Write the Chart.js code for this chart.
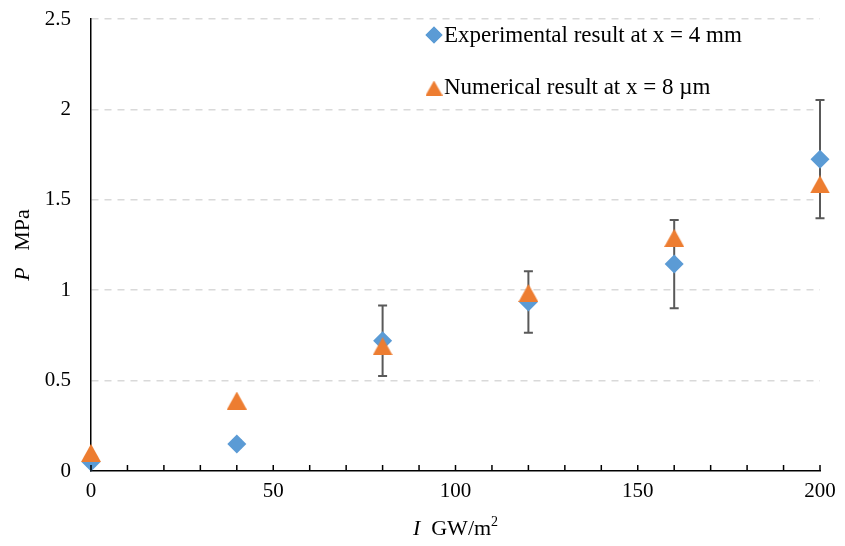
<!DOCTYPE html>
<html>
<head>
<meta charset="utf-8">
<script src="https://cdn.jsdelivr.net/npm/chart.js@4"></script>
<style>
  html, body { margin: 0; padding: 0; background: #fff; }
  #wrap { width: 845px; height: 546px; }
</style>
</head>
<body>
<div id="wrap"><canvas id="graphchart" width="845" height="546"></canvas></div>
<script>
// intensity I (GW/m2)
var intensity = [0, 40, 80, 120, 160, 200]
// pressure P (MPa)
var experimental = [0.05, 0.15, 0.72, 0.935, 1.145, 1.725]
var expError = [0.02, 0.02, 0.195, 0.17, 0.244, 0.327]
var numerical = [0.1, 0.39, 0.69, 0.985, 1.29, 1.585]
var seriesNames = ['Experimental result at x = 4 mm', 'Numerical result at x = 8 \u00b5m']
var xLabels = [0, 50, 100, 150, 200]

var serif = "'Liberation Serif', 'Times New Roman', serif"

// triangle marker, centred on its box like the spreadsheet marker
function makeTriangle(w, h, color) {
    var c = document.createElement('canvas')
    c.width = w
    c.height = h
    var g = c.getContext('2d')
    g.fillStyle = color
    g.beginPath()
    g.moveTo(w / 2, 0)
    g.lineTo(w, h)
    g.lineTo(0, h)
    g.closePath()
    g.fill()
    return c
}
var triangle = makeTriangle(20, 18, '#ED7D31')
var triangleSmall = makeTriangle(17, 15, '#ED7D31')

// error bars, drawn under the markers
var errorBars = {
    id: 'errorBars',
    beforeDatasetsDraw: function (chart) {
        var ctx = chart.ctx
        var xs = chart.scales.x, ys = chart.scales.y
        ctx.save()
        ctx.strokeStyle = '#595959'
        ctx.lineWidth = 2
        intensity.forEach(function (v, i) {
            var px = xs.getPixelForValue(v)
            var top = ys.getPixelForValue(experimental[i] + expError[i])
            var bot = ys.getPixelForValue(experimental[i] - expError[i])
            ctx.beginPath()
            ctx.moveTo(px, top); ctx.lineTo(px, bot)
            ctx.moveTo(px - 4.5, top); ctx.lineTo(px + 4.5, top)
            ctx.moveTo(px - 4.5, bot); ctx.lineTo(px + 4.5, bot)
            ctx.stroke()
        })
        ctx.restore()
    }
}

// inward tick marks, axis titles and the legend
var decorations = {
    id: 'decorations',
    afterDraw: function (chart) {
        var ctx = chart.ctx
        var area = chart.chartArea
        var xs = chart.scales.x
        ctx.save()
        ctx.strokeStyle = '#000'
        ctx.lineWidth = 1.5
        xs.ticks.forEach(function (t) {
            var px = xs.getPixelForValue(t.value)
            ctx.beginPath()
            ctx.moveTo(px, area.bottom)
            ctx.lineTo(px, area.bottom - 6)
            ctx.stroke()
        })

        ctx.fillStyle = '#000'
        ctx.textBaseline = 'middle'

        // x title: I GW/m2
        var cx = (area.left + area.right) / 2
        ctx.font = 'italic 22px ' + serif
        var wI = ctx.measureText('I').width
        ctx.font = '22px ' + serif
        var wMain = ctx.measureText('  GW/m').width
        ctx.font = '14px ' + serif
        var wSup = ctx.measureText('2').width
        var x0 = cx - (wI + wMain + wSup) / 2
        var ty = 529
        ctx.textAlign = 'left'
        ctx.font = 'italic 22px ' + serif
        ctx.fillText('I', x0, ty)
        ctx.font = '22px ' + serif
        ctx.fillText('  GW/m', x0 + wI, ty)
        ctx.font = '14px ' + serif
        ctx.fillText('2', x0 + wI + wMain, ty - 7)

        // y title: P MPa
        ctx.save()
        ctx.translate(23, (area.top + area.bottom) / 2)
        ctx.rotate(-Math.PI / 2)
        ctx.font = 'italic 22px ' + serif
        var wP = ctx.measureText('P').width
        ctx.font = '22px ' + serif
        var wM = ctx.measureText('   MPa').width
        var y0 = -(wP + wM) / 2
        ctx.font = 'italic 22px ' + serif
        ctx.fillText('P', y0, 0)
        ctx.font = '22px ' + serif
        ctx.fillText('   MPa', y0 + wP, 0)
        ctx.restore()

        // legend
        var ds0 = chart.data.datasets[0]
        ctx.fillStyle = ds0.backgroundColor
        Chart.helpers.drawPoint(ctx, { pointStyle: 'rectRot', radius: 8.5, borderWidth: 0 }, 434, 35)
        ctx.fill()
        ctx.drawImage(triangleSmall, 434 - 8.5, 88 - 7.5)

        ctx.fillStyle = '#000'
        ctx.font = '23px ' + serif
        ctx.textAlign = 'left'
        ctx.fillText(seriesNames[0], 444, 36)
        ctx.fillText(seriesNames[1], 444, 88)
        ctx.restore()
    }
}

function showgraphic() {
    var ctx = document.getElementById('graphchart')

    new Chart(ctx, {
        type: 'scatter',
        data: {
            datasets: [{
                label: seriesNames[0],
                data: intensity.map(function (x, i) { return { x: x, y: experimental[i] } }),
                order: 1,
                pointStyle: 'rectRot',
                pointRadius: 9.5,
                pointHoverRadius: 9.5,
                backgroundColor: '#5B9BD5',
                borderColor: '#5B9BD5',
                borderWidth: 0,
                clip: false
            }, {
                label: seriesNames[1],
                data: intensity.map(function (x, i) { return { x: x, y: numerical[i] } }),
                order: 0,
                pointStyle: triangle,
                pointRadius: 10,
                backgroundColor: '#ED7D31',
                borderColor: '#ED7D31',
                borderWidth: 0,
                clip: false
            }]
        },
        options: {
            responsive: false,
            animation: false,
            layout: {
                padding: { top: 0, right: 25, left: 0, bottom: 0 }
            },
            scales: {
                x: {
                    type: 'linear',
                    min: 0,
                    max: 200,
                    afterFit: function (s) { s.height = 75 },
                    border: { display: true, color: '#000', width: 1.5 },
                    grid: { display: false, drawTicks: false },
                    ticks: {
                        stepSize: 10,
                        autoSkip: false,
                        maxRotation: 0,
                        padding: 8,
                        color: '#000',
                        font: { family: serif, size: 21 },
                        callback: function (v) { return xLabels.indexOf(v) >= 0 ? String(v) : '' }
                    }
                },
                y: {
                    min: 0,
                    max: 2.5,
                    afterFit: function (s) { s.width = 91 },
                    border: { display: true, color: '#000', width: 1.5, dash: [7, 6] },
                    grid: {
                        color: function (c) { return c.tick && c.tick.value === 0 ? 'rgba(0,0,0,0)' : '#d9d9d9' },
                        lineWidth: 1.5,
                        drawTicks: true,
                        tickLength: 13.5,
                        tickColor: 'rgba(0,0,0,0)'
                    },
                    ticks: {
                        stepSize: 0.5,
                        padding: 6.5,
                        color: '#000',
                        font: { family: serif, size: 21 },
                        callback: function (v) { return String(v) }
                    }
                }
            },
            plugins: {
                legend: { display: false },
                tooltip: { enabled: false }
            }
        },
        plugins: [errorBars, decorations]
    })
}

document.addEventListener('DOMContentLoaded', showgraphic)
</script>
</body>
</html>
